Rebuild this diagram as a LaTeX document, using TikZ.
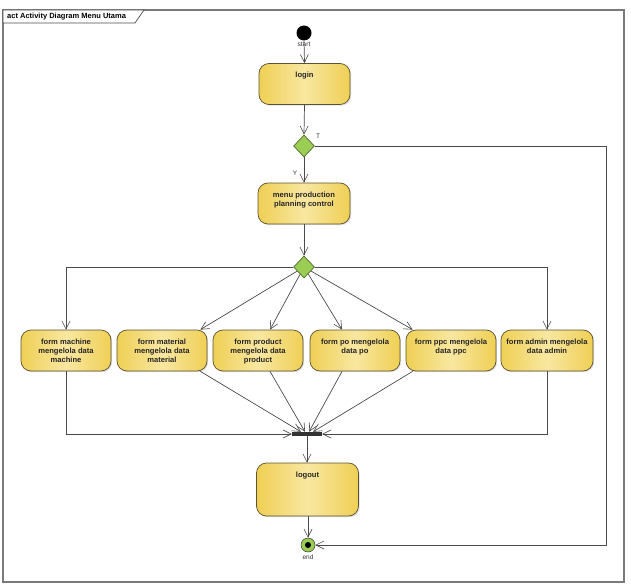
\documentclass[tikz,border=0pt]{standalone}
\usepackage{fontspec}
\setmainfont{Liberation Sans}
\usetikzlibrary{arrows.meta,shapes.geometric,shadows}
\definecolor{ylwL}{HTML}{F8E7A0}
\definecolor{ylwD}{HTML}{EFCF55}
\definecolor{bdr}{HTML}{5A5234}
\definecolor{grn}{HTML}{9BCD55}
\definecolor{grnD}{HTML}{4F6B2C}
\definecolor{lnc}{HTML}{4A4A4A}
\definecolor{frm}{HTML}{7A7A7A}
\begin{document}
\begin{tikzpicture}[x=1pt,y=-1pt,
  >={Straight Barb[length=8pt,width=8pt,line width=0.6pt]},
  conn/.style={draw=lnc,line width=0.7pt,->},
  plain/.style={draw=lnc,line width=0.7pt},
  actbox/.style 2 args={draw=bdr,line width=0.7pt,rounded corners=10pt,
    left color=ylwD,right color=ylwD,middle color=ylwL,
    drop shadow={shadow xshift=1.2pt,shadow yshift=-1.2pt,opacity=0.25},
    inner sep=0pt,font=\bfseries\fontsize{7.6}{9}\selectfont,text=black!85,
    execute at begin node={\begin{minipage}[c][#2pt][t]{#1pt}\centering\vspace*{8.5pt}},
    execute at end node={\end{minipage}}},
  dec/.style={diamond,draw=grnD,fill=grn,line width=0.7pt,minimum width=21pt,minimum height=22pt,inner sep=0pt},
  small/.style={font=\fontsize{6.5}{7}\selectfont,text=black!80,inner sep=0pt}]
\useasboundingbox (0,0) rectangle (631,588);
% frame
\draw[frm,line width=1.4pt] (3,10) rectangle (624,582);
\draw[black!70,line width=0.7pt,fill=white] (3,10) -- (144,10) -- (135,23) -- (3,23) -- cycle;
\node[anchor=west,inner sep=0pt,font=\bfseries\fontsize{7.5}{8}\selectfont] (title) at (7,16.5) {act Activity Diagram Menu Utama};
% nodes
\node[circle,fill=black,minimum size=15pt,inner sep=0pt] (start) at (304,33) {};
\node[actbox={91}{41}] (login) at (304.5,84) {login};
\node[dec] (d1) at (304,146) {};
\node[actbox={92}{41}] (menu) at (304,203.5) {menu production\\planning control};
\node[dec] (d2) at (304,267) {};
\node[actbox={90}{41}] (b1) at (66,350.5) {form machine\\mengelola data\\machine};
\node[actbox={90}{41}] (b2) at (162,350.5) {form material\\mengelola data\\material};
\node[actbox={90}{41}] (b3) at (258,350.5) {form product\\mengelola data\\product};
\node[actbox={90}{41}] (b4) at (355,350.5) {form po mengelola\\data po};
\node[actbox={90}{41}] (b5) at (451,350.5) {form ppc mengelola\\data ppc};
\node[actbox={92}{41}] (b6) at (547,350.5) {form admin mengelola\\data admin};
\node[actbox={102}{53}] (logout) at (307.5,489.5) {logout};
\node[fill=black!80,minimum width=30pt,minimum height=4pt,inner sep=0pt] (bar) at (307,434) {};
\node[circle,draw=black!80,fill=grn,line width=0.5pt,minimum size=14pt,inner sep=0pt] (end) at (308,545) {};
\node[circle,fill=black,minimum size=6pt,inner sep=0pt] (enddot) at (end.center) {};
% connectors
\draw[conn] (start.south) -- (login.north);
\node[small] (lstart) at (304,44) {start};
\draw[conn] (login.south) -- (d1.north);
\draw[conn] (d1.south) -- (menu.north);
\node[small] (lT) at (318,136) {T};
\node[small] (lY) at (295,173) {Y};
\coordinate (tc) at (606,400);
\draw[plain] (d1.east) -| (tc);
\draw[conn] (tc) |- (end.east);
\draw[conn] (menu.south) -- (d2.north);
\draw[conn] (d2.west) -| (b1.north);
\draw[conn] (d2.east) -| (b6.north);
\draw[conn] (d2) -- ([xshift=-7pt]b2.north east);
\draw[conn] (d2) -- ([xshift=12pt]b3.north);
\draw[conn] (d2) -- ([xshift=-13pt]b4.north);
\draw[conn] (d2) -- ([xshift=7pt]b5.north west);
\draw[conn] (b1.south) |- (bar.west);
\draw[conn] (b6.south) |- (bar.east);
\draw[conn] ([xshift=-7pt]b2.south east) -- ([xshift=-6pt]bar.north);
\draw[conn] ([xshift=12pt]b3.south) -- ([xshift=-2pt]bar.north);
\draw[conn] ([xshift=-13pt]b4.south) -- ([xshift=2pt]bar.north);
\draw[conn] ([xshift=7pt]b5.south west) -- ([xshift=6pt]bar.north);
\draw[conn] (bar.south) -- (bar.south |- logout.north);
\draw[conn] (logout.south -| end.north) -- (end.north);
\node[small] (lend) at (308,557) {end};
\end{tikzpicture}
\end{document}
